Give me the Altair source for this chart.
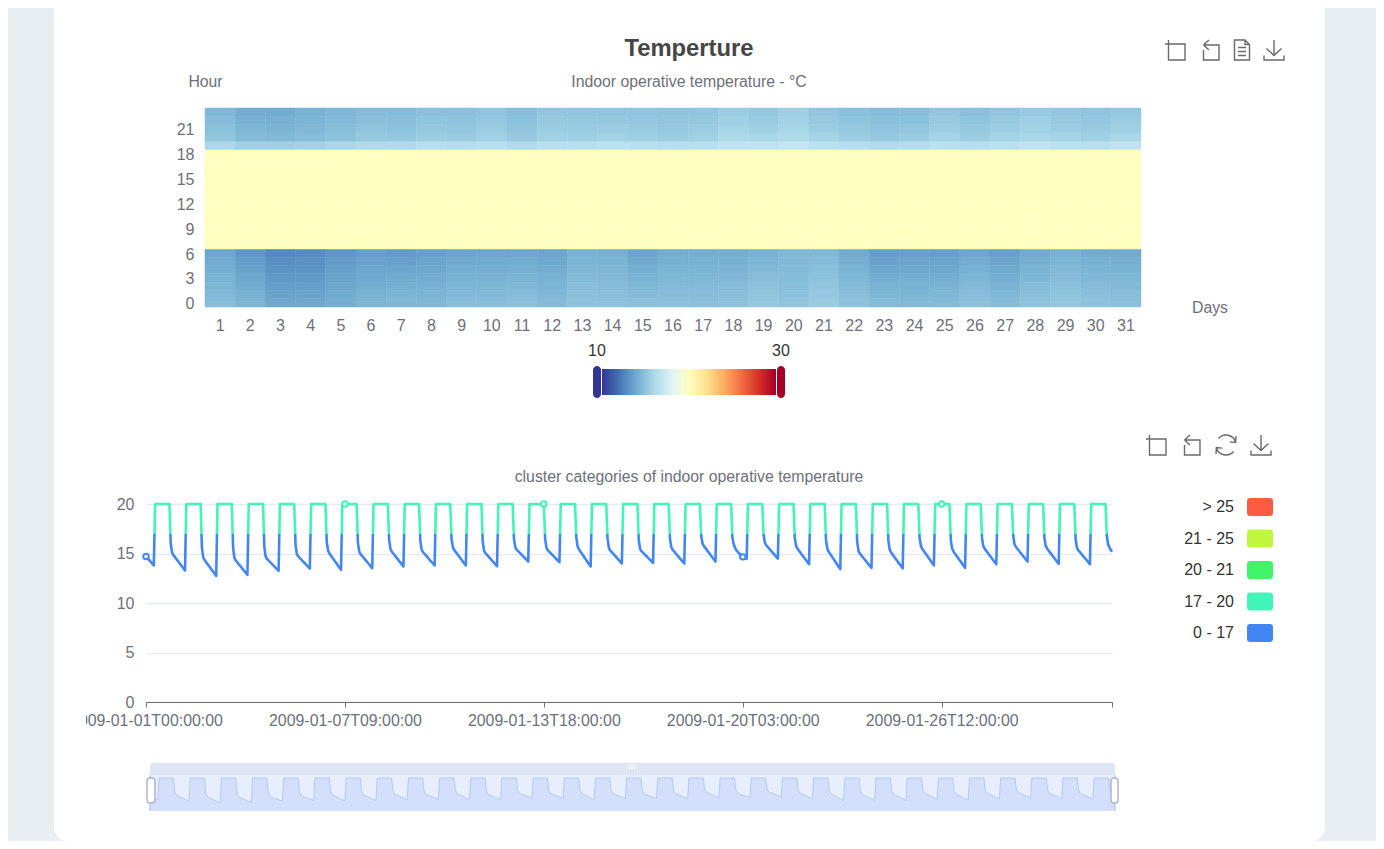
import altair as alt
import pandas as pd

# ---------- values ----------
DAYS = list(range(1, 32))
HOURS_DESC = list(range(23, -1, -1))
HOUR_TICKS = [0, 3, 6, 9, 12, 15, 18, 21]
AXIS_TICKS = ["2009-01-01T00:00:00", "2009-01-07T09:00:00", "2009-01-13T18:00:00",
              "2009-01-20T03:00:00", "2009-01-26T12:00:00", "2009-01-31T23:00:00"]
H0 = [14.7,14.33,13.81,13.82,14.06,14.31,14.46,14.47,14.7,14.7,14.84,14.61,15.0,14.93,14.84,14.88,14.85,14.92,15.24,15.05,15.4,14.97,14.61,14.52,14.58,14.92,14.66,14.97,15.18,14.99,14.87]
H1 = [14.55,14.16,13.64,13.66,13.93,14.17,14.28,14.31,14.53,14.55,14.67,14.46,14.87,14.8,14.65,14.73,14.72,14.77,15.07,14.92,15.24,14.8,14.41,14.36,14.4,14.74,14.48,14.8,15.02,14.82,14.71]
H2 = [14.4,13.98,13.46,13.49,13.79,14.04,14.09,14.15,14.36,14.39,14.49,14.31,14.73,14.66,14.45,14.58,14.59,14.61,14.89,14.78,15.09,14.62,14.21,14.2,14.22,14.55,14.29,14.62,14.85,14.65,14.55]
H3 = [14.25,13.81,13.28,13.33,13.66,13.9,13.91,13.99,14.19,14.24,14.32,14.16,14.6,14.53,14.26,14.43,14.45,14.46,14.72,14.66,14.94,14.45,14.01,14.04,14.04,14.36,14.11,14.45,14.69,14.47,14.4]
H4 = [14.1,13.63,13.1,13.17,13.52,13.76,13.72,13.84,14.03,14.09,14.14,14.02,14.46,14.39,14.07,14.29,14.32,14.3,14.54,14.58,14.79,14.27,13.82,13.87,13.86,14.17,13.92,14.27,14.52,14.3,14.24]
H5 = [13.95,13.46,12.92,13.01,13.39,13.62,13.54,13.68,13.86,13.94,13.97,13.87,14.33,14.26,13.88,14.14,14.19,14.15,14.37,14.52,14.64,14.1,13.62,13.71,13.68,13.99,13.74,14.1,14.36,14.13,14.08]
H6 = [13.79,13.28,12.74,12.85,13.25,13.48,13.35,13.52,13.69,13.79,13.79,13.72,14.19,14.12,13.69,13.99,14.06,13.99,14.19,14.46,14.49,13.92,13.42,13.55,13.5,13.8,13.55,13.92,14.19,13.96,13.92]
HDAY = [20.0] * 31
H19 = [16.0,15.6,15.6,15.7,15.9,16.2,16.1,16.4,16.3,16.5,16.2,16.5,16.5,16.6,16.5,16.4,16.5,16.8,16.7,16.9,16.6,16.4,16.2,16.3,16.6,16.4,16.6,16.8,16.6,16.5,16.8]
H20 = [15.13,14.63,14.56,14.7,14.97,15.3,15.2,15.47,15.4,15.64,15.3,15.64,15.57,15.7,15.57,15.47,15.64,16.04,15.94,16.1,15.77,15.5,15.27,15.4,15.77,15.5,15.77,15.94,15.77,15.6,15.94]
H21 = [14.86,14.35,14.3,14.47,14.73,15.02,14.94,15.2,15.15,15.37,15.05,15.41,15.34,15.41,15.32,15.24,15.39,15.77,15.6,15.85,15.5,15.2,15.01,15.12,15.48,15.22,15.5,15.68,15.5,15.34,15.6]
H22 = [14.68,14.17,14.14,14.33,14.59,14.83,14.78,15.03,15.0,15.19,14.9,15.27,15.2,15.22,15.17,15.11,15.23,15.59,15.35,15.7,15.32,15.0,14.85,14.94,15.3,15.03,15.32,15.51,15.33,15.18,15.37]
H23 = [14.51,13.99,13.98,14.2,14.45,14.65,14.63,14.87,14.85,15.02,14.76,15.14,15.07,15.03,15.03,14.98,15.08,15.42,15.2,15.55,15.15,14.81,14.68,14.76,15.11,14.85,15.15,15.35,15.16,15.03,15.17]
HOURLY = [H0, H1, H2, H3, H4, H5, H6] + [HDAY] * 12 + [H19, H20, H21, H22, H23]

HEAT_STOPS = [10, 12, 14, 16, 18, 20, 22, 24, 26, 28, 30]
HEAT_COLORS = ["#313695", "#4575b4", "#74add1", "#abd9e9", "#e0f3f8", "#ffffbf",
               "#fee090", "#fdae61", "#f46d43", "#d73027", "#a50026"]
LEGEND_LABELS = ["> 25", "21 - 25", "20 - 21", "17 - 20", "0 - 17"]
LEGEND_COLORS = ["#ff5b42", "#bef73e", "#42f46a", "#42f4b8", "#4286f4"]
LOW_COLOR, MID_COLOR = "#4286f4", "#42f4b8"
BREAK = 17

TEXT = "#6e7079"
FONT = "Liberation Sans"
W = 1368

# ---------- tables ----------
rows = [{"day": d, "hour": h, "temp": HOURLY[h][i]} for i, d in enumerate(DAYS) for h in range(24)]
heat = pd.DataFrame(rows)
series = heat.sort_values(["day", "hour"]).reset_index(drop=True)
series["time"] = [f"2009-01-{d:02d}T{h:02d}:00:00" for d, h in zip(series["day"], series["hour"])]
series["dot"] = [LOW_COLOR if t < BREAK else MID_COLOR for t in series["temp"]]
dots = series[series["time"].isin(AXIS_TICKS[:-1])]
legend = pd.DataFrame({"label": LEGEND_LABELS, "color": LEGEND_COLORS})
one = pd.DataFrame({"o": [0]})


def txt(text, x, y, size=15.8, color=TEXT, align="center", weight="normal"):
    return alt.Chart(one).mark_text(fontSize=size, color=color, align=align, baseline="middle",
                                    fontWeight=weight, font=FONT).encode(
        x=alt.value(x), y=alt.value(y), text=alt.value(text))


def box(x, x2, y, y2, **kw):
    return alt.Chart(one).mark_rect(**kw).encode(
        x=alt.value(x), x2=alt.value(x2), y=alt.value(y), y2=alt.value(y2))


def icon(path, x, y, size=20, color="#6a6a6a", width=1.4):
    return alt.Chart(one).mark_point(shape=path, size=size * size, filled=False, stroke=color,
                                     strokeWidth=width, opacity=1).encode(
        x=alt.value(x), y=alt.value(y))


CROP = "M-0.65,-1V1H1V-0.6H-1"
BACK = "M-0.65,-0.5H0.9V1H-0.65V0M-0.65,-0.5L-0.1,-1M-0.65,-0.5L-0.1,0"
DOC = "M-0.75,-1H0.3L0.75,-0.55V1H-0.75ZM0.3,-1V-0.55H0.75M-0.4,-0.25H0.4M-0.4,0.15H0.4M-0.4,0.55H0.4"
SAVE = "M0,-1V0.55M-0.75,-0.15L0,0.55L0.75,-0.15M-1,0.55V1H1V0.55"
REFRESH = ("M0.92,-0.25A0.95,0.95 0 0 0 -0.72,-0.62M-0.92,0.25A0.95,0.95 0 0 0 0.72,0.62"
           "M0.95,-0.85L0.92,-0.25L0.35,-0.3M-0.95,0.85L-0.92,0.25L-0.35,0.3")
ROUND = "M-.75,-.69H.75Q1,-.69 1,-.44V.44Q1,.69 .75,.69H-.75Q-1,.69 -1,.44V-.44Q-1,-.69 -.75,-.69Z"

# ---------- heat map panel ----------
heat_color = alt.Scale(domain=HEAT_STOPS, range=HEAT_COLORS)
cells = alt.Chart(heat).mark_rect(strokeWidth=0.5).encode(
    x=alt.X("day:O", scale=alt.Scale(domain=DAYS, range=[197, 1133], paddingInner=0, paddingOuter=0),
            axis=alt.Axis(title=None, ticks=False, domain=False, labelAngle=0, labelPadding=10,
                          labelFontSize=16, labelColor=TEXT, labelFont=FONT)),
    y=alt.Y("hour:O", scale=alt.Scale(domain=HOURS_DESC, range=[96, 295], paddingInner=0, paddingOuter=0),
            axis=alt.Axis(title=None, ticks=False, domain=False, values=HOUR_TICKS, offset=-197, labelPadding=11,
                          labelOffset=1.5, labelFontSize=16, labelColor=TEXT, labelFont=FONT, labelAngle=0)),
    color=alt.Color("temp:Q", legend=None, scale=heat_color),
    stroke=alt.Stroke("temp:Q", legend=None, scale=heat_color),
)
bar_fill = alt.Gradient(gradient="linear", x1=0, x2=1, y1=0, y2=0,
                        stops=[alt.GradientStop(offset=(v - 10) / 20, color=c)
                               for v, c in zip(HEAT_STOPS, HEAT_COLORS)])
panel1 = alt.layer(
    box(46, 1317, -4, 829, fill="white", cornerRadiusBottomLeft=14, cornerRadiusBottomRight=14),
    cells,
    txt("Temperture", 681, 37, size=23.8, color="#464646", weight="bold"),
    txt("Indoor operative temperature - °C", 681, 70),
    txt("Hour", 197.5, 70),
    txt("Days", 1202, 296),
    txt("10", 589, 339, size=16, color="#333333"),
    txt("30", 773, 339, size=16, color="#333333"),
    box(594, 768, 357, 383, fill=bar_fill),
    box(585, 593, 354, 386, fill=HEAT_COLORS[0], cornerRadius=4),
    box(769, 777, 354, 386, fill=HEAT_COLORS[-1], cornerRadius=4),
    icon(CROP, 1167, 38), icon(BACK, 1202, 38), icon(DOC, 1234, 38), icon(SAVE, 1266, 38),
).properties(width=W, height=295)

# ---------- line panel ----------
time_x = alt.Scale(nice=False, range=[138, 1104])
temp_y = alt.Scale(domain=[0, 20], range=[395, 197], nice=False)
lo, hi = min(series["temp"]), max(series["temp"])
cut = (BREAK - lo) / (hi - lo)
line_stroke = alt.Gradient(gradient="linear", x1=0, x2=0, y1=1, y2=0, stops=[
    alt.GradientStop(offset=0, color=LOW_COLOR), alt.GradientStop(offset=cut, color=LOW_COLOR),
    alt.GradientStop(offset=cut, color=MID_COLOR), alt.GradientStop(offset=1, color=MID_COLOR)])
line = alt.Chart(series).mark_line(stroke=line_stroke, strokeWidth=2.6, strokeJoin="round").encode(
    x=alt.X("time:T", scale=time_x, axis=alt.Axis(
        title=None, values=AXIS_TICKS, format="%Y-%m-%dT%H:%M:%S", labelExpr="datum.index >= 1 ? '' : datum.label",
        grid=False, tickSize=5, tickColor=TEXT, domainColor=TEXT, labelColor=TEXT, labelFontSize=15.9,
        labelFont=FONT, labelPadding=5, labelOverlap=False, labelFlush=False, labelBound=False)),
    y=alt.Y("temp:Q", scale=temp_y, axis=alt.Axis(
        title=None, values=[0, 5, 10, 15, 20], domain=False, ticks=False, grid=True, gridColor="#e6eaf4",
        gridWidth=1.6, offset=-138, labelPadding=12, labelColor=TEXT, labelFontSize=16, labelFont=FONT)),
)
points = alt.Chart(dots).mark_point(fill="white", strokeWidth=2, size=30, opacity=1).encode(
    x=alt.X("time:T", scale=alt.Scale(nice=False, range=[138, 1104],
                                      domain=[AXIS_TICKS[0], AXIS_TICKS[-1]]), axis=None),
    y=alt.Y("temp:Q", scale=temp_y, axis=None),
    stroke=alt.Stroke("dot:N", scale=None),
)
legend_y = alt.Scale(type="point", domain=LEGEND_LABELS, range=[200, 326], padding=0)
legend_marks = alt.Chart(legend).mark_point(shape=ROUND, size=26 * 26, filled=True, opacity=1).encode(
    x=alt.value(1252), y=alt.Y("label:N", scale=legend_y, axis=None, sort=LEGEND_LABELS),
    color=alt.Color("color:N", scale=None))
legend_text = alt.Chart(legend).mark_text(align="right", baseline="middle", fontSize=16, color="#333333", font=FONT).encode(
    x=alt.value(1226), y=alt.Y("label:N", scale=legend_y, axis=None, sort=LEGEND_LABELS), text="label:N")
panel2 = alt.layer(
    line, points,
    box(60, 78, 400, 430, fill="white"),
    legend_marks, legend_text,
    txt("cluster categories of indoor operative temperature", 681, 170),
    icon(CROP, 1148, 138), icon(BACK, 1183, 138), icon(REFRESH, 1218, 138, size=21), icon(SAVE, 1253, 138),
).resolve_scale(x="independent", y="independent", color="independent", stroke="independent").properties(width=W, height=395)

# ---------- overview panel ----------
over_x = alt.Scale(nice=False, range=[142, 1107])
over_y = alt.Scale(domain=[10.4, 20], range=[109, 76], nice=False)
over_area = alt.Chart(series).mark_area(color="#d3dffb", opacity=1).encode(
    x=alt.X("time:T", scale=over_x, axis=None),
    y=alt.Y("temp:Q", scale=over_y, axis=None, stack=None), y2=alt.value(109))
over_line = alt.Chart(series).mark_line(color="#b5c9f6", strokeWidth=1).encode(
    x=alt.X("time:T", scale=over_x, axis=None), y=alt.Y("temp:Q", scale=over_y, axis=None))
panel3 = alt.layer(
    box(142, 1107, 73, 109, fill="#e7eefe"),
    box(142, 1107, 61, 73, fill="#dfe5f4", cornerRadiusTopLeft=3, cornerRadiusTopRight=3),
    over_area, over_line,
    box(141.5, 142.5, 73, 109, fill="#acb8d1"),
    box(1106.5, 1107.5, 73, 109, fill="#acb8d1"),
    box(139, 147, 76, 101, fill="white", stroke="#acb8d1", strokeWidth=1.5, cornerRadius=3),
    box(1103, 1110, 76, 101, fill="white", stroke="#acb8d1", strokeWidth=1.5, cornerRadius=3),
    icon("M-1,-1V1M0,-1V1M1,-1V1", 624, 65, size=5, color="white", width=1),
).properties(width=W, height=109)

chart = alt.vconcat(panel1, panel2, panel3, spacing=0, bounds="flush", padding=0,
                    background="#e8eef2").resolve_scale(color="independent", x="independent", y="independent",
                                                         stroke="independent"
).configure(font=FONT).configure_view(stroke=None)

chart.save("out.html", embed_options={"renderer": "svg", "actions": False})
